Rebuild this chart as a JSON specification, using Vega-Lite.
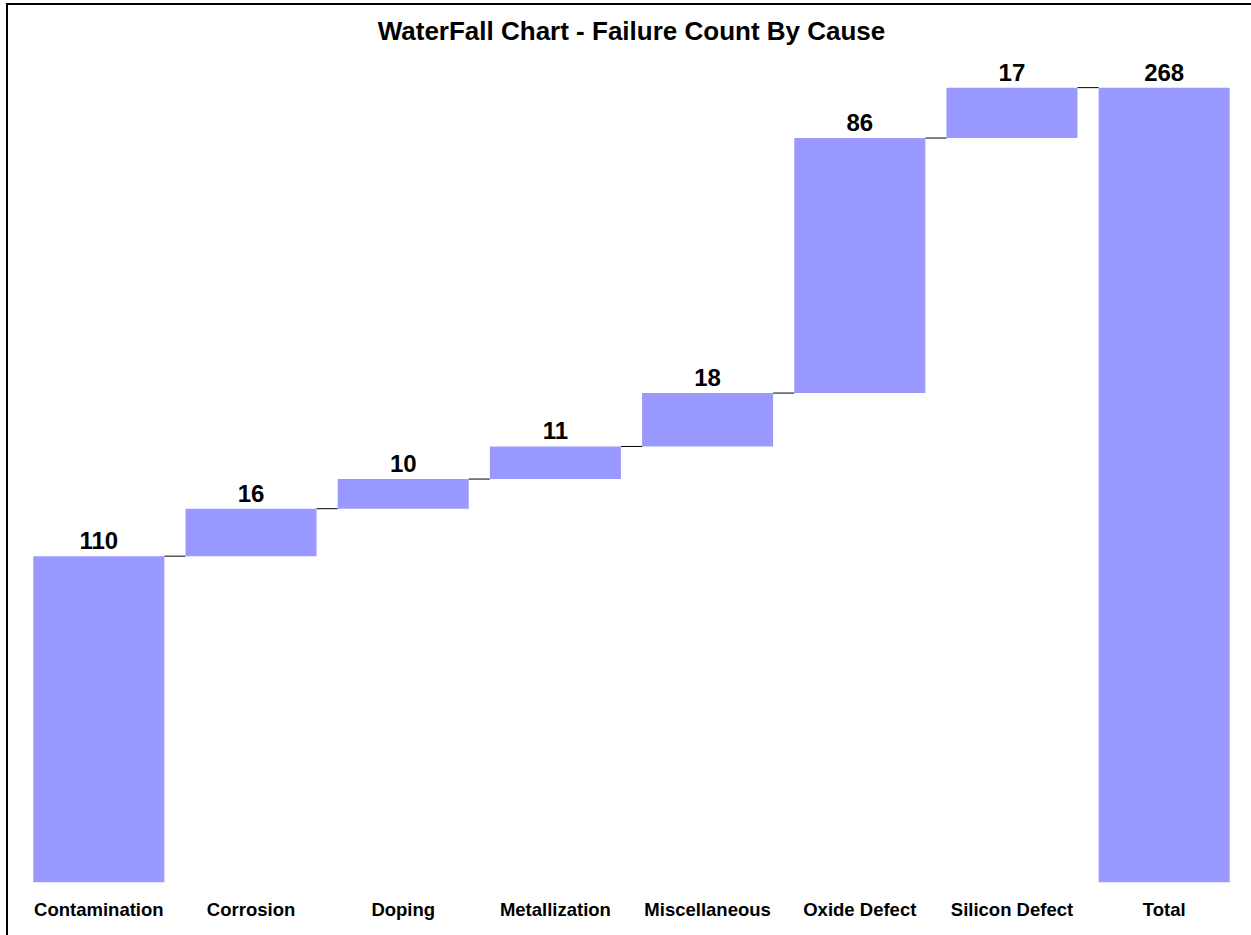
{
  "$schema": "https://vega.github.io/schema/vega-lite/v6.json",
  "autosize": {"type": "none"},
  "padding": {"left": 7, "top": 4, "right": 0, "bottom": 0},
  "width": 1249,
  "height": 935,
  "background": "white",
  "config": {
    "view": {"stroke": "black", "strokeWidth": 2},
    "font": "Liberation Sans"
  },
  "title": {
    "text": "WaterFall Chart - Failure Count By Cause",
    "fontSize": 26,
    "font": "Liberation Sans",
    "fontWeight": "bold",
    "color": "black",
    "anchor": "middle",
    "frame": "group",
    "baseline": "top",
    "offset": -41
  },
  "data": {
    "values": [
      {"cause": "Contamination", "start": 0, "end": 110, "label": 110, "next": "Corrosion"},
      {"cause": "Corrosion", "start": 110, "end": 126, "label": 16, "next": "Doping"},
      {"cause": "Doping", "start": 126, "end": 136, "label": 10, "next": "Metallization"},
      {"cause": "Metallization", "start": 136, "end": 147, "label": 11, "next": "Miscellaneous"},
      {"cause": "Miscellaneous", "start": 147, "end": 165, "label": 18, "next": "Oxide Defect"},
      {"cause": "Oxide Defect", "start": 165, "end": 251, "label": 86, "next": "Silicon Defect"},
      {"cause": "Silicon Defect", "start": 251, "end": 268, "label": 17, "next": "Total"},
      {"cause": "Total", "start": 0, "end": 268, "label": 268, "next": null}
    ]
  },
  "encoding": {
    "x": {
      "field": "cause",
      "type": "nominal",
      "sort": null,
      "scale": {"paddingInner": 0.139, "paddingOuter": 0.173},
      "axis": {
        "title": null,
        "orient": "bottom",
        "domain": false,
        "ticks": false,
        "tickSize": 0,
        "labelPadding": 0,
        "labelBaseline": "alphabetic",
        "labelAngle": 0,
        "labelFont": "Liberation Sans",
        "labelFontSize": 18.5,
        "labelFontWeight": "bold",
        "labelColor": "black",
        "offset": -24,
        "grid": false
      }
    }
  },
  "layer": [
    {
      "transform": [{"filter": "datum.next != null"}],
      "mark": {"type": "rule", "color": "black", "strokeWidth": 1},
      "encoding": {
        "x": {"field": "cause", "type": "nominal", "sort": null, "bandPosition": 1},
        "x2": {"field": "next", "bandPosition": 0},
        "y": {"field": "end", "type": "quantitative", "scale": {"domain": [-19.1, 296.2], "nice": false, "zero": false}, "axis": null}
      }
    },
    {
      "mark": {"type": "bar", "color": "#9999FF"},
      "encoding": {
        "y": {"field": "start", "type": "quantitative", "axis": null},
        "y2": {"field": "end"}
      }
    },
    {
      "mark": {"type": "text", "baseline": "alphabetic", "dy": -7, "fontSize": 24, "fontWeight": "bold", "font": "Liberation Sans", "color": "black"},
      "encoding": {
        "y": {"field": "end", "type": "quantitative", "axis": null},
        "text": {"field": "label", "type": "quantitative"}
      }
    }
  ]
}
